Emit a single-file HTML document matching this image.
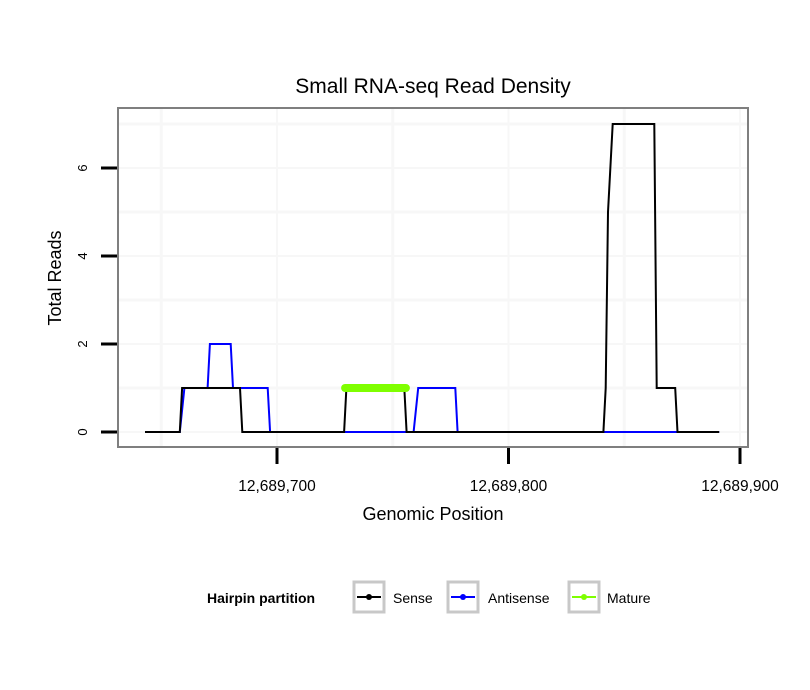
<!DOCTYPE html>
<html><head><meta charset="utf-8"><style>
body{margin:0;background:#fff;}
svg{display:block;font-family:"Liberation Sans",sans-serif;}
</style></head><body>
<svg id="chart" width="810" height="690" xmlns="http://www.w3.org/2000/svg">
<rect x="0" y="0" width="810" height="690" fill="#fff"/>
<text x="433" y="93" font-size="21" text-anchor="middle">Small RNA-seq Read Density</text>
<g id="grid"></g>
<g id="series"></g>
<rect x="118" y="108" width="630" height="339" fill="none" stroke="#7f7f7f" stroke-width="2"/>
<g id="axes"></g>
<text x="433" y="520" font-size="18" text-anchor="middle">Genomic Position</text>
<text transform="translate(61,278) rotate(-90)" font-size="18" text-anchor="middle">Total Reads</text>
<g>
<text x="207" y="603" font-size="14" font-weight="bold">Hairpin partition</text>
<g>
<rect x="354" y="582" width="30" height="30" fill="#fff" stroke="#c8c8c8" stroke-width="3"/>
<line x1="357" y1="597" x2="381" y2="597" stroke="#000" stroke-width="2"/>
<circle cx="369" cy="597" r="3" fill="#000"/>
<text x="393" y="603" font-size="14">Sense</text></g>
<g>
<rect x="448" y="582" width="30" height="30" fill="#fff" stroke="#c8c8c8" stroke-width="3"/>
<line x1="451" y1="597" x2="475" y2="597" stroke="#0000ff" stroke-width="2"/>
<circle cx="463" cy="597" r="3" fill="#0000ff"/>
<text x="488" y="603" font-size="14">Antisense</text></g>
<g>
<rect x="569" y="582" width="30" height="30" fill="#fff" stroke="#c8c8c8" stroke-width="3"/>
<line x1="572" y1="597" x2="596" y2="597" stroke="#7fff00" stroke-width="2"/>
<circle cx="584" cy="597" r="3" fill="#7fff00"/>
<text x="607" y="603" font-size="14">Mature</text></g>
</g>
</svg>
<script>
const OFFSET = 12689000;
const sensePos = [643,658,659,684,685,729,730,755,756,841,842,843,845,863,864,872,873,891];
const senseVal = [0,0,1,1,0,0,1,1,0,0,1,5,7,7,1,1,0,0];
const antiPos = [643,658,660,670,671,680,681,696,697,759,761,777,778,891];
const antiVal = [0,0,1,1,2,2,1,1,0,0,1,1,0,0];
const maturePos = [729.4,755.7];
const matureVal = [1,1];
const xTicks = [12689700,12689800,12689900];
const xTickLabels = ["12,689,700","12,689,800","12,689,900"];
const yTicks = [0,2,4,6];
const xMinor = [12689650,12689750,12689850];
const yMinor = [1,3,5,7];

const NS="http://www.w3.org/2000/svg";
function xs(v){return 277+(v-12689700)*2.315;}
function ys(v){return 432-v*44;}
function mk(tag,attrs,parent){const e=document.createElementNS(NS,tag);for(const k in attrs)e.setAttribute(k,attrs[k]);parent.appendChild(e);return e;}
const grid=document.getElementById('grid'),series=document.getElementById('series'),axes=document.getElementById('axes');
xMinor.concat(xTicks).forEach(v=>{const x=xs(v);if(x>118&&x<748){const l=mk('line',{x1:x,x2:x,y1:109,y2:446,stroke:'#f7f7f7','stroke-width':xMinor.includes(v)?3:2},grid);

}});
yMinor.concat(yTicks).forEach(v=>{const y=ys(v);if(y>108&&y<447){const l=mk('line',{x1:119,x2:747,y1:y,y2:y,stroke:'#f7f7f7','stroke-width':yMinor.includes(v)?3:2},grid);

}});
function pts(p,v){return p.map((q,i)=>xs(q+OFFSET).toFixed(1)+','+ys(v[i]).toFixed(1)).join(' ');}
const a=mk('polyline',{points:pts(antiPos,antiVal),fill:'none',stroke:'#0000ff','stroke-width':2},series);


const s=mk('polyline',{points:pts(sensePos,senseVal),fill:'none',stroke:'#000','stroke-width':2},series);


const m=mk('polyline',{points:pts(maturePos,matureVal),fill:'none',stroke:'#7fff00','stroke-width':8,'stroke-linecap':'round'},series);


xTicks.forEach((v,i)=>{const x=xs(v);
const t=mk('line',{x1:x,x2:x,y1:448,y2:464,stroke:'#000','stroke-width':3},axes);


const tx=mk('text',{x:x,y:491,'font-size':15.5,'text-anchor':'middle'},axes);tx.textContent=xTickLabels[i];

});
yTicks.forEach(v=>{const y=ys(v);
const t=mk('line',{x1:101,x2:117,y1:y,y2:y,stroke:'#000','stroke-width':3},axes);


const tx=mk('text',{transform:`translate(87,${y}) rotate(-90)`,'font-size':13,'text-anchor':'middle'},axes);tx.textContent=String(v);

});
</script>
</body></html>
